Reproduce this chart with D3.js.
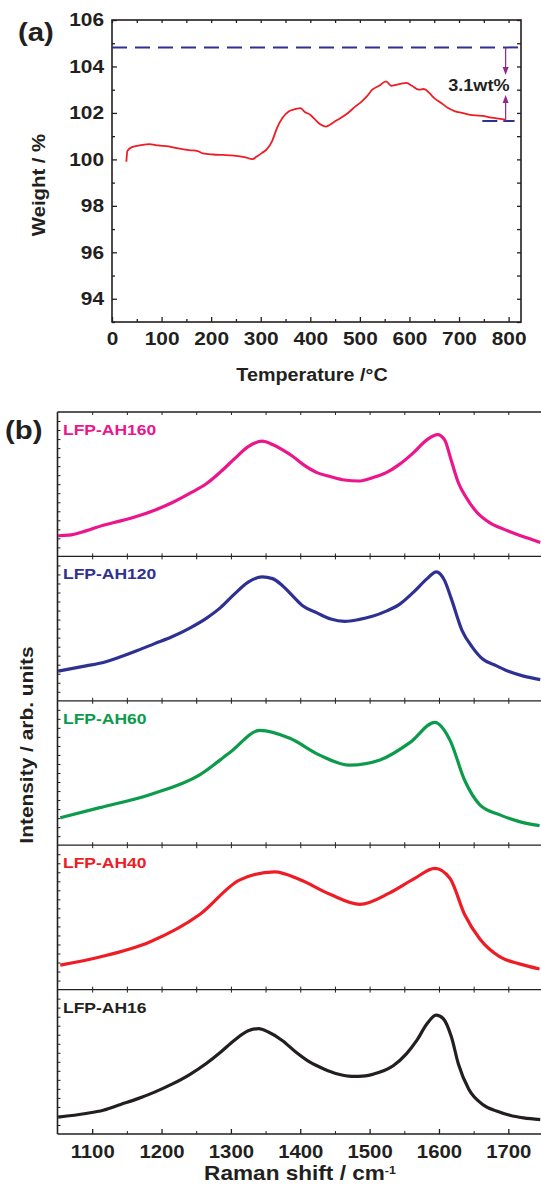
<!DOCTYPE html>
<html>
<head>
<script src="https://d3js.org/d3.v7.min.js"></script>
<style>
body { margin: 0; background: #fff; }
svg text { font-family: 'Liberation Sans', Arial, sans-serif; font-weight: bold; fill: #231f20; }
</style>
</head>
<body>
<svg id="chart"></svg>
<script>
// ---- (a) TGA data ----
const tgaTemp = [29, 31, 40, 58, 75, 93, 114, 134, 155, 173, 183, 204, 225, 246, 267, 284, 291, 302, 312, 323,
  333, 344, 357, 371, 380, 389, 399, 410, 420, 431, 438, 448, 462, 476, 490, 504, 514, 525, 539, 553,
  563, 573, 584, 594, 605, 619, 629, 640, 650, 664, 678, 692, 706, 720, 734, 748, 762, 776, 793];
const tgaWeight = [99.9, 100.36, 100.53, 100.61, 100.66, 100.6, 100.56, 100.47, 100.4, 100.36, 100.26, 100.21, 100.19, 100.16, 100.1, 100.01, 100.11, 100.27, 100.43, 100.79,
  101.36, 101.79, 102.07, 102.17, 102.21, 102.04, 101.93, 101.71, 101.51, 101.41, 101.47, 101.61, 101.79, 102.0, 102.26, 102.5, 102.71, 103.0, 103.17, 103.36,
  103.17, 103.21, 103.26, 103.29, 103.17, 103.0, 103.03, 102.86, 102.64, 102.43, 102.21, 102.07, 102.0, 101.93, 101.89, 101.87, 101.81, 101.77, 101.71];
const weightTicks = [94, 96, 98, 100, 102, 104, 106];
const tempTicks = [0, 100, 200, 300, 400, 500, 600, 700, 800];
const lossTop = 104.82, lossBottom = 101.65, lossAt = 794, lossLabel = "3.1wt%";

// ---- (b) Raman data (intensity as % of panel height) ----
const ramanNames = ["LFP-AH160", "LFP-AH120", "LFP-AH60", "LFP-AH40", "LFP-AH16"];
const ah160Shift = [1051, 1066, 1091, 1116, 1141, 1166, 1190, 1215, 1240, 1265, 1285, 1305, 1325, 1345, 1360, 1374, 1389, 1404, 1424, 1444,
  1464, 1484, 1504, 1524, 1543, 1563, 1583, 1598, 1608, 1618, 1628, 1638, 1653, 1673, 1693, 1712, 1732, 1746];
const ah160Int = [14.3, 14.7, 17.7, 21.6, 24.6, 28, 32, 37.2, 43.5, 50.5, 58.5, 67.5, 76, 79.8, 77.5, 74, 69.4, 63.7, 58, 55.2,
  52.9, 52.2, 54.5, 58, 63.7, 71.7, 80.9, 84.4, 80.9, 66, 51, 41.8, 31.5, 23.4, 18.9, 15.4, 12, 9.7];
const ah120Shift = [1051, 1091, 1116, 1141, 1166, 1190, 1215, 1240, 1265, 1285, 1305, 1325, 1345, 1360, 1374, 1389, 1404, 1424, 1444, 1464,
  1484, 1504, 1524, 1543, 1563, 1583, 1596, 1608, 1618, 1633, 1648, 1663, 1683, 1702, 1722, 1746];
const ah120Int = [20.6, 24.2, 26.5, 30.5, 35, 39.6, 44.3, 50.2, 57.3, 64.5, 73.9, 82.2, 85.8, 84.6, 79.9, 72.7, 65.6, 60.9, 56.6, 55,
  56.2, 58.5, 62.1, 66.8, 75.1, 84.6, 89.3, 83.4, 70.4, 49, 37.2, 28.9, 24.2, 20.1, 17.1, 14.7];
const ah60Shift = [1054, 1111, 1183, 1255, 1299, 1342, 1385, 1428, 1471, 1515, 1558, 1594, 1616, 1637, 1659, 1688, 1716, 1745];
const ah60Int = [19, 26, 35, 48.7, 64.4, 79.5, 74, 62.4, 55.4, 59, 71, 85, 72.6, 45, 28, 21, 16.3, 13.5];
const ah40Shift = [1054, 1111, 1183, 1255, 1313, 1363, 1400, 1443, 1486, 1529, 1565, 1594, 1616, 1637, 1659, 1688, 1716, 1745];
const ah40Int = [17, 22.6, 33, 52, 76, 81.5, 76, 66, 59, 67, 77, 84, 77, 52, 35, 22.6, 17.8, 14.3];
const ah16Shift = [1051, 1091, 1116, 1141, 1166, 1190, 1215, 1240, 1265, 1285, 1305, 1325, 1340, 1354, 1374, 1394, 1414, 1434, 1454, 1474,
  1494, 1514, 1534, 1553, 1568, 1583, 1596, 1606, 1618, 1628, 1643, 1663, 1683, 1702, 1722, 1746];
const ah16Int = [11.7, 14.2, 16.5, 20.5, 24.5, 29, 34.5, 41, 49, 56.6, 65, 71.5, 73, 70.6, 64.8, 56.6, 49.7, 45, 41.5, 39.9,
  40.3, 42.7, 47.3, 55.5, 64.8, 76.5, 82.3, 80, 67.1, 48.5, 31, 20.5, 15.9, 13, 11.2, 10];
const shiftTicks = [1100, 1200, 1300, 1400, 1500, 1600, 1700];

const ramanShifts = [ah160Shift, ah120Shift, ah60Shift, ah40Shift, ah16Shift];
const ramanInts = [ah160Int, ah120Int, ah60Int, ah40Int, ah16Int];
const ramanColors = ["#ec168c", "#2e3192", "#0b9b4a", "#ee1c24", "#231f20"];

const W = 541, H = 1187, SX = 1.13; // text is a bit wider than Liberation Sans
const ink = "#231f20";
const svg = d3.select("#chart").attr("width", W).attr("height", H);

function label(x, y, txt, size, anchor, rot) {
  return svg.append("text")
    .attr("transform", `translate(${x},${y}) rotate(${rot || 0}) scale(${SX},1)`)
    .attr("text-anchor", anchor || "middle")
    .style("font-size", size + "px")
    .text(txt);
}
function stretchTicks(g, size) {
  g.selectAll("text").style("font-size", size + "px").style("fill", ink)
    .attr("transform", `scale(${SX},1)`);
}

// ================= (a) =================
const a = { l: 112, r: 521, t: 20, b: 322 };
const xA = d3.scaleLinear().domain([0, 825]).range([a.l, a.r]);
const yA = d3.scaleLinear().domain([93, 106]).range([a.b, a.t]);

const gA = svg.append("g");
function axisA(axis, tr) {
  const g = gA.append("g").attr("transform", tr).call(axis);
  g.select(".domain").remove();
  g.selectAll("line").attr("stroke", ink).attr("stroke-width", 1.3);
  return g;
}
const leftMain = axisA(d3.axisLeft(yA).tickValues(weightTicks).tickSize(-5).tickPadding(8), `translate(${a.l},0)`);
stretchTicks(leftMain, 18.5);
leftMain.selectAll("text").attr("x", -8 / SX);
axisA(d3.axisLeft(yA).tickValues(d3.range(93, 106, 2)).tickSize(-3).tickFormat(""), `translate(${a.l},0)`);
axisA(d3.axisRight(yA).tickValues(d3.range(93, 107, 1)).tickSize(-4).tickFormat(""), `translate(${a.r},0)`);
const botMain = axisA(d3.axisBottom(xA).tickValues(tempTicks).tickSize(-5).tickPadding(10), `translate(0,${a.b})`);
stretchTicks(botMain, 18.5);
axisA(d3.axisBottom(xA).tickValues(d3.range(50, 825, 100)).tickSize(-3).tickFormat(""), `translate(0,${a.b})`);
axisA(d3.axisTop(xA).tickValues(d3.range(0, 825, 50)).tickSize(-3).tickFormat(""), `translate(0,${a.t})`);
gA.append("rect").attr("x", a.l).attr("y", a.t).attr("width", a.r - a.l).attr("height", a.b - a.t)
  .attr("fill", "none").attr("stroke", ink).attr("stroke-width", 1.6);

// dashed reference lines
gA.append("line").attr("x1", xA(0)).attr("x2", xA(825)).attr("y1", yA(lossTop)).attr("y2", yA(lossTop))
  .attr("stroke", "#2e3192").attr("stroke-width", 2).attr("stroke-dasharray", "15,8");
gA.append("line").attr("x1", xA(747)).attr("x2", xA(812)).attr("y1", yA(lossBottom)).attr("y2", yA(lossBottom))
  .attr("stroke", "#2e3192").attr("stroke-width", 2).attr("stroke-dasharray", "15,6");

// TGA curve
gA.append("path").datum(d3.zip(tgaTemp, tgaWeight))
  .attr("d", d3.line().x(d => xA(d[0])).y(d => yA(d[1])).curve(d3.curveMonotoneX))
  .attr("fill", "none").attr("stroke", "#ee1c24").attr("stroke-width", 1.8);

// weight-loss arrows
const ax = xA(lossAt), purple = "#92278f";
const tipDown = yA(103.63), tipUp = yA(102.77);
gA.append("line").attr("x1", ax).attr("x2", ax).attr("y1", yA(lossTop)).attr("y2", tipDown - 4)
  .attr("stroke", purple).attr("stroke-width", 1.2);
gA.append("line").attr("x1", ax).attr("x2", ax).attr("y1", tipUp + 4).attr("y2", yA(lossBottom))
  .attr("stroke", purple).attr("stroke-width", 1.2);
gA.append("path").attr("d", `M${ax - 3},${tipDown - 8}L${ax + 3},${tipDown - 8}L${ax},${tipDown}Z`).attr("fill", purple);
gA.append("path").attr("d", `M${ax - 3},${tipUp + 8}L${ax + 3},${tipUp + 8}L${ax},${tipUp}Z`).attr("fill", purple);
label(xA(740), yA(103.2) + 6, lossLabel, 16);

label(18, 41, "(a)", 26, "start");
label(312, 381, "Temperature /°C", 17.5);
label(45, 185, "Weight / %", 18, "middle", -90);

// ================= (b) =================
const b = { l: 57.5, r: 543, t: 412, b: 1134 };
const nP = ramanNames.length, ph = (b.b - b.t) / nP;
const xB = d3.scaleLinear().domain([1050, 1750]).range([b.l, b.r]);
const gB = svg.append("g");

ramanNames.forEach((name, i) => {
  const top = b.t + i * ph, bot = top + ph;
  const yP = d3.scaleLinear().domain([0, 100]).range([bot, top]);
  const g = gB.append("g");
  const tickAx = (axis, tr) => {
    const t = g.append("g").attr("transform", tr).call(axis);
    t.select(".domain").remove();
    t.selectAll("line").attr("stroke", ink).attr("stroke-width", 1);
  };
  tickAx(d3.axisLeft(yP).tickValues(d3.range(6.25, 100, 6.25)).tickSize(-3).tickFormat(""), `translate(${b.l},0)`);
  tickAx(d3.axisTop(xB).tickValues(d3.range(1100, 1750, 50)).tickSize(-3).tickFormat(""), `translate(0,${top})`);
  if (i < nP - 1)
    tickAx(d3.axisBottom(xB).tickValues(d3.range(1100, 1750, 50)).tickSize(-3).tickFormat(""), `translate(0,${bot})`);
  g.append("line").attr("x1", b.l).attr("x2", b.r).attr("y1", top).attr("y2", top)
    .attr("stroke", ink).attr("stroke-width", 1.3);

  g.append("path").datum(d3.zip(ramanShifts[i], ramanInts[i]))
    .attr("d", d3.line().x(d => xB(d[0])).y(d => yP(d[1])).curve(d3.curveMonotoneX))
    .attr("fill", "none").attr("stroke", ramanColors[i]).attr("stroke-width", 3.2)
    .attr("stroke-linejoin", "round");

  label(63, top + 23, name, 15.5, "start").style("fill", ramanColors[i]);
});

// bottom axis of (b)
const botB = gB.append("g").attr("transform", `translate(0,${b.b})`)
  .call(d3.axisBottom(xB).tickValues(shiftTicks).tickSize(-5).tickPadding(11).tickFormat(d3.format("d")));
botB.select(".domain").remove();
botB.selectAll("line").attr("stroke", ink).attr("stroke-width", 1.3);
stretchTicks(botB, 18);
const botMinor = gB.append("g").attr("transform", `translate(0,${b.b})`)
  .call(d3.axisBottom(xB).tickValues(d3.range(1150, 1750, 100)).tickSize(-3).tickFormat(""));
botMinor.select(".domain").remove();
botMinor.selectAll("line").attr("stroke", ink);
gB.append("line").attr("x1", b.l).attr("x2", b.r).attr("y1", b.b).attr("y2", b.b)
  .attr("stroke", ink).attr("stroke-width", 1.6);
gB.append("line").attr("x1", b.l).attr("x2", b.l).attr("y1", b.t).attr("y2", b.b)
  .attr("stroke", ink).attr("stroke-width", 1.6);

label(5, 439, "(b)", 26, "start");
const xt = label(300, 1180, "Raman shift / cm", 20);
xt.append("tspan").attr("baseline-shift", "super").style("font-size", "11px").text("-1");
label(33, 745, "Intensity / arb. units", 18.5, "middle", -90);
</script>
</body>
</html>
